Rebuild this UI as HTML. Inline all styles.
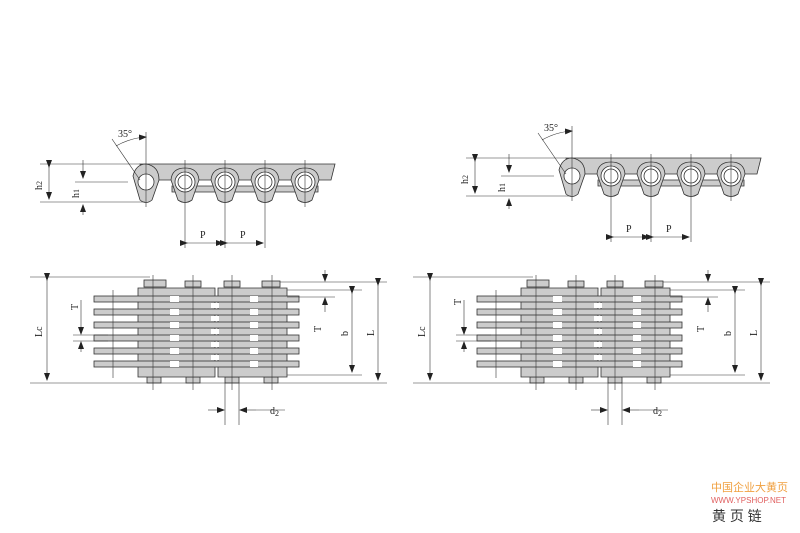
<!DOCTYPE html>
<html><head><style>
html,body{margin:0;padding:0;background:#fff;}
svg{display:block;font-family:"Liberation Serif",serif;}
</style></head><body>
<svg width="800" height="533" viewBox="0 0 800 533" xmlns="http://www.w3.org/2000/svg">
<defs>
<marker id="a" markerWidth="8" markerHeight="6" refX="7" refY="3" orient="auto" markerUnits="userSpaceOnUse"><path d="M0,0 L8,3 L0,6z" fill="#222"/></marker>
<g id="top" stroke="#333" stroke-width="0.8">
  <path d="M140,164 L335,164 L331,180 L145,180 Z" fill="#ccc"/>
  <path d="M172,186 L318,186 L318,192 L172,192 Z" fill="#ccc"/>
  <path d="M133,176 Q136,164 146,164 Q159,166 159,180 L152,200 Q146,205 140,200 Z" fill="#ccc"/>
  <g fill="#ccc">
    <path d="M171,180 Q172,168 185,168 Q198,168 199,180 L192,200 Q185,205 178,200 Z"/>
    <path d="M211,180 Q212,168 225,168 Q238,168 239,180 L232,200 Q225,205 218,200 Z"/>
    <path d="M251,180 Q252,168 265,168 Q278,168 279,180 L272,200 Q265,205 258,200 Z"/>
    <path d="M291,180 Q292,168 305,168 Q318,168 319,180 L312,200 Q305,205 298,200 Z"/>
  </g>
  <circle cx="146" cy="182" r="8" fill="#fff"/>
  <g fill="#fff"><circle cx="185" cy="182" r="10"/><circle cx="225" cy="182" r="10"/><circle cx="265" cy="182" r="10"/><circle cx="305" cy="182" r="10"/></g>
  <g fill="none"><circle cx="185" cy="182" r="7"/><circle cx="225" cy="182" r="7"/><circle cx="265" cy="182" r="7"/><circle cx="305" cy="182" r="7"/></g>
  <g stroke-width="0.6">
    <line x1="146" y1="132" x2="146" y2="207"/><line x1="185" y1="160" x2="185" y2="248"/><line x1="225" y1="160" x2="225" y2="248"/><line x1="265" y1="160" x2="265" y2="248"/><line x1="305" y1="160" x2="305" y2="207"/>
    <line x1="112" y1="139" x2="140" y2="180"/>
    <line x1="40" y1="164" x2="140" y2="164"/><line x1="40" y1="202" x2="145" y2="202"/>
    <line x1="75" y1="182" x2="128" y2="182"/>
    <line x1="49" y1="167" x2="49" y2="199" marker-end="url(#a)" marker-start="url(#a)"/>
    <line x1="83" y1="160" x2="83" y2="178" marker-end="url(#a)"/>
    <line x1="83" y1="215" x2="83" y2="205" marker-end="url(#a)"/>
    <line x1="187" y1="243" x2="223" y2="243" marker-end="url(#a)" marker-start="url(#a)"/>
    <line x1="227" y1="243" x2="263" y2="243" marker-end="url(#a)" marker-start="url(#a)"/>
    <path d="M116,146 Q130,138 146,137" fill="none" marker-end="url(#a)"/>
  </g>
</g>
<g id="bot" stroke="#333" stroke-width="0.8">
  <g fill="#ccc">
    <rect x="144" y="280" width="22" height="7"/><rect x="185" y="281" width="16" height="6"/><rect x="224" y="281" width="16" height="6"/><rect x="262" y="281" width="18" height="6"/>
    <rect x="147" y="377" width="14" height="6"/><rect x="186" y="377" width="14" height="6"/><rect x="225" y="377" width="14" height="6"/><rect x="264" y="377" width="14" height="6"/>
    <path d="M138,288 L215,288 L215,377 L138,377 Z"/>
    <path d="M218,288 L287,288 L287,377 L218,377 Z"/>
  </g>
  <g fill="#ccc">
    <rect x="94" y="296" width="205" height="6"/><rect x="94" y="309" width="205" height="6"/><rect x="94" y="322" width="205" height="6"/><rect x="94" y="335" width="205" height="6"/><rect x="94" y="348" width="205" height="6"/><rect x="94" y="361" width="205" height="6"/>
  </g>
  <g fill="#fff" stroke="none">
    <rect x="170" y="296" width="9" height="6"/><rect x="170" y="309" width="9" height="6"/><rect x="170" y="322" width="9" height="6"/><rect x="170" y="335" width="9" height="6"/><rect x="170" y="348" width="9" height="6"/><rect x="170" y="361" width="9" height="6"/>
    <rect x="211" y="303" width="8" height="5"/><rect x="211" y="316" width="8" height="5"/><rect x="211" y="329" width="8" height="5"/><rect x="211" y="342" width="8" height="5"/><rect x="211" y="355" width="8" height="5"/>
    <rect x="250" y="296" width="8" height="6"/><rect x="250" y="309" width="8" height="6"/><rect x="250" y="322" width="8" height="6"/><rect x="250" y="335" width="8" height="6"/><rect x="250" y="348" width="8" height="6"/><rect x="250" y="361" width="8" height="6"/>
  </g>
  <g stroke-width="0.6">
    <line x1="153" y1="275" x2="153" y2="390"/><line x1="193" y1="275" x2="193" y2="390"/><line x1="232" y1="275" x2="232" y2="390"/><line x1="272" y1="275" x2="272" y2="390"/>
    <line x1="113" y1="290" x2="113" y2="378"/>
    <line x1="30" y1="277" x2="150" y2="277"/><line x1="30" y1="383" x2="387" y2="383"/>
    <line x1="280" y1="282" x2="387" y2="282"/><line x1="287" y1="290" x2="362" y2="290"/><line x1="287" y1="297" x2="335" y2="297"/><line x1="287" y1="375" x2="362" y2="375"/>
    <line x1="47" y1="280" x2="47" y2="380" marker-end="url(#a)" marker-start="url(#a)"/>
    <line x1="378" y1="285" x2="378" y2="380" marker-end="url(#a)" marker-start="url(#a)"/>
    <line x1="352" y1="293" x2="352" y2="372" marker-end="url(#a)" marker-start="url(#a)"/>
    <line x1="325" y1="270" x2="325" y2="281" marker-end="url(#a)"/><line x1="325" y1="312" x2="325" y2="298" marker-end="url(#a)"/>
    <line x1="73" y1="335" x2="108" y2="335"/><line x1="73" y1="341" x2="108" y2="341"/>
    <line x1="81" y1="300" x2="81" y2="334" marker-end="url(#a)"/><line x1="81" y1="352" x2="81" y2="342" marker-end="url(#a)"/>
    <line x1="225" y1="383" x2="225" y2="425"/><line x1="239" y1="383" x2="239" y2="425"/>
    <line x1="208" y1="410" x2="224" y2="410" marker-end="url(#a)"/><line x1="256" y1="410" x2="240" y2="410" marker-end="url(#a)"/><line x1="256" y1="410" x2="285" y2="410"/>
  </g>
</g>
</defs>
<use href="#top"/>
<use href="#top" transform="translate(426,-6)"/>
<use href="#bot"/>
<use href="#bot" transform="translate(383,0)"/>
<g font-size="10" fill="#222">
  <text x="118" y="137">35°</text><text x="544" y="131">35°</text>
  <text x="200" y="238">P</text><text x="240" y="238">P</text>
  <text x="626" y="232">P</text><text x="666" y="232">P</text>
  <text x="270" y="414">d<tspan font-size="8" dy="2">2</tspan></text>
  <text x="653" y="414">d<tspan font-size="8" dy="2">2</tspan></text>
  <g transform="rotate(-90)">
    <text x="-190" y="42">h<tspan font-size="8">2</tspan></text><text x="-198" y="79">h<tspan font-size="8">1</tspan></text>
    <text x="-184" y="468">h<tspan font-size="8">2</tspan></text><text x="-192" y="505">h<tspan font-size="8">1</tspan></text>
    <text x="-337" y="42">Lc</text><text x="-337" y="425">Lc</text>
    <text x="-310" y="78">T</text><text x="-305" y="461">T</text>
    <text x="-332" y="321">T</text><text x="-332" y="704">T</text>
    <text x="-336" y="348">b</text><text x="-336" y="731">b</text>
    <text x="-336" y="374">L</text><text x="-336" y="757">L</text>
  </g>
</g>
<g font-family="'Liberation Sans','Noto Sans CJK SC',sans-serif">
  <text x="711" y="491" font-size="11" fill="#f0a040">中国企业大黄页</text>
  <text x="711" y="503" font-size="8" fill="#e06060">WWW.YPSHOP.NET</text>
  <text x="712" y="521" font-size="14" fill="#333">黄 页 链</text>
</g>
</svg>
</body></html>
